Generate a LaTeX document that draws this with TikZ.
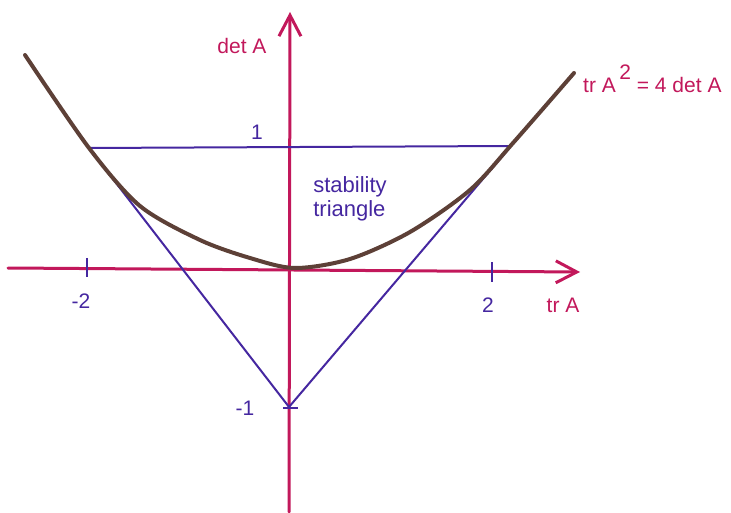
\documentclass[tikz,border=0pt]{standalone}
\usepackage{fontspec}
\setmainfont{Liberation Sans}
\usetikzlibrary{arrows.meta}
\definecolor{axispink}{HTML}{C2185B}
\definecolor{tripurple}{HTML}{4527A0}
\definecolor{curvebrown}{HTML}{5D4037}
\tikzset{
    axisline/.style={draw=axispink, line width=3pt, line cap=round,
                     -{Straight Barb[length=21pt, width=22pt, line width=3pt]}},
    triline/.style={draw=tripurple, line width=2pt, line join=round},
    tickmark/.style={draw=tripurple, line width=2pt},
    parab/.style={draw=curvebrown, line width=4pt, line cap=round},
    axislabel/.style={text=axispink, font=\fontsize{21}{24}\selectfont, inner sep=0pt},
    numlabel/.style={text=tripurple, font=\fontsize{21}{24}\selectfont, inner sep=0pt},
}

\begin{document}
\begin{tikzpicture}[x=1pt, y=-1pt]
    \path[use as bounding box] (0,0) rectangle (731,513);

    % axes
    \coordinate (xstart) at (8,268);
    \coordinate (xend) at (580,272);
    \coordinate (ystart) at (289,512);
    \coordinate (yend) at (290,12);
    \draw[axisline] (xstart) -- (xend);
    \draw[axisline] (ystart) -- (yend);

    % stability triangle
    \coordinate (left) at (89,148);
    \coordinate (right) at (511,146);
    \coordinate (bottom) at (289,407);
    \draw[triline] (left) -- (right) -- (bottom) -- cycle;

    % ticks
    \draw[tickmark] (87,258) -- (87,277);
    \draw[tickmark] (492,262) -- (492,282);
    \draw[tickmark] (283,408) -- (298,408);

    % tr^2 = 4 det
    \draw[parab] plot[smooth] coordinates {
        (25,55) (89,148) (140,206) (200,240) (250,258) (295,268)
        (350,259) (410,232) (470,190) (513,143) (574,73)};

    \node[axislabel] (detlab) at (242,46) {det A};
    \node[axislabel] (trlab) at (563,305) {tr A};
    \node[axislabel, anchor=base west] (eqlab) at (583,93)
        {tr A\,\raisebox{0.62em}{2} = 4 det A};

    \node[numlabel] (one) at (257,132) {1};
    \node[numlabel] (mone) at (245,408) {-1};
    \node[numlabel] (mtwo) at (81,301) {-2};
    \node[numlabel] (two) at (488,305) {2};
    \node[numlabel, align=left, font=\fontsize{22}{24}\selectfont]
        (stab) at (350,199) {stability\\triangle};
\end{tikzpicture}
\end{document}
